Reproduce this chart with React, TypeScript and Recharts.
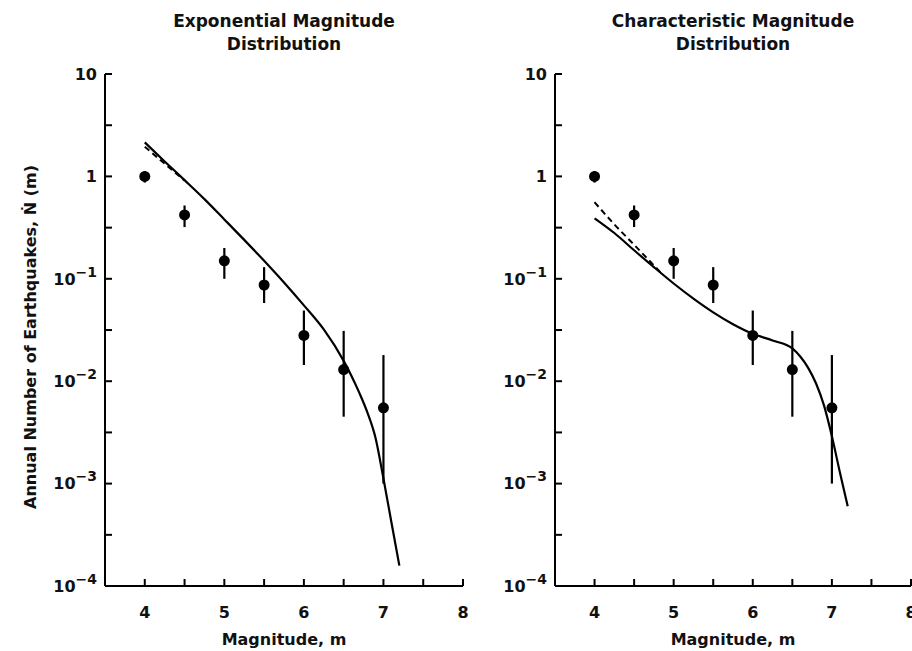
import React from 'react';
import { ComposedChart, Line, Scatter, ErrorBar, XAxis, YAxis } from 'recharts';

// observed annual rates (dots + vertical error bars), same in both panels
const magnitudes = [4, 4.5, 5, 5.5, 6, 6.5, 7];
const observedRate = [1.0, 0.42, 0.15, 0.087, 0.028, 0.013, 0.0055];
const rateLow = [0.87, 0.32, 0.1, 0.058, 0.0144, 0.0045, 0.001];
const rateHigh = [1.13, 0.52, 0.2, 0.13, 0.049, 0.031, 0.018];

// exponential model
const expMag = [4, 4.25, 4.5, 4.75, 5, 5.25, 5.5, 5.75, 6, 6.25, 6.5, 6.6, 6.7, 6.8, 6.9, 7, 7.1, 7.2];
const expRate = [2.15, 1.4, 0.92, 0.6, 0.38, 0.24, 0.15, 0.092, 0.055, 0.032, 0.0158, 0.0112, 0.0076, 0.0049, 0.0028, 0.00112, 0.00042, 0.000158];
const expDashMag = [4, 4.25, 4.5];
const expDashRate = [1.95, 1.33, 0.91];

// characteristic model
const charMag = [4, 4.25, 4.5, 4.75, 5, 5.25, 5.5, 5.75, 6, 6.25, 6.5, 6.6, 6.7, 6.8, 6.9, 7, 7.1, 7.2];
const charRate = [0.39, 0.28, 0.19, 0.13, 0.09, 0.064, 0.047, 0.036, 0.029, 0.025, 0.0209, 0.0174, 0.0135, 0.0095, 0.0058, 0.0029, 0.0013, 0.0006];
const charDashMag = [4, 4.25, 4.5, 4.75, 4.85];
const charDashRate = [0.56, 0.34, 0.215, 0.135, 0.112];

const xTicks = [4, 4.5, 5, 5.5, 6, 6.5, 7, 7.5, 8];
const xTickLabels = ['4', '', '5', '', '6', '', '7', '', '8'];
const yTicks = [0.0001, 0.000316, 0.001, 0.00316, 0.01, 0.0316, 0.1, 0.316, 1, 3.16, 10];
const yTickBase = ['10', '', '10', '', '10', '', '10', '', '1', '', '10'];
const yTickExp = ['−4', '', '−3', '', '−2', '', '−1', '', '', '', ''];

const FONT = '"DejaVu Sans", sans-serif';
const TICK = 7;

const points = magnitudes.map((m, i) => ({
  m,
  n: observedRate[i],
  err: [observedRate[i] - rateLow[i], rateHigh[i] - observedRate[i]],
}));
const toSeries = (ms: number[], ns: number[]) => ms.map((m, i) => ({ m, n: ns[i] }));

const LeftYTick = (props: any) => {
  const { x, y, payload } = props;
  const i = yTicks.indexOf(payload.value);
  const ax = x + 8;
  return (
    <g>
      <line x1={ax} x2={ax + TICK} y1={y} y2={y} stroke="#000" strokeWidth={2} />
      {yTickBase[i] ? (
        <text x={x} y={y} dy="0.36em" textAnchor="end" fontFamily={FONT} fontWeight="bold" fontSize={16} fill="#111">
          {yTickBase[i]}
          {yTickExp[i] ? <tspan dy={-8} fontSize={14}>{yTickExp[i]}</tspan> : null}
        </text>
      ) : null}
    </g>
  );
};

const RightYTick = (props: any) => {
  const { x, y } = props;
  return <line x1={x - TICK} x2={x} y1={y} y2={y} stroke="#000" strokeWidth={2} />;
};

const BottomXTick = (props: any) => {
  const { x, y, payload } = props;
  const i = xTicks.indexOf(payload.value);
  const ay = y - 10;
  return (
    <g>
      <line x1={x} x2={x} y1={ay} y2={ay - TICK} stroke="#000" strokeWidth={2} />
      <text x={x} y={y + 8} dy="0.9em" textAnchor="middle" fontFamily={FONT} fontWeight="bold" fontSize={16} fill="#111">
        {xTickLabels[i]}
      </text>
    </g>
  );
};

const TopXTick = (props: any) => {
  const { x, y } = props;
  return <line x1={x} x2={x} y1={y} y2={y + TICK} stroke="#000" strokeWidth={2} />;
};

interface PanelProps {
  title: string;
  curve: { m: number; n: number }[];
  dash: { m: number; n: number }[];
  width: number;
  marginRight: number;
  showYLabel: boolean;
}

const Panel: React.FC<PanelProps> = ({ title, curve, dash, width, marginRight, showYLabel }) => {
  const plotLeft = 105;
  const plotCenter = (plotLeft + width - marginRight) / 2;
  return (
    <div style={{ position: 'relative', width, height: 651 }}>
      <div
        style={{
          position: 'absolute',
          top: 10,
          left: plotCenter - 150,
          width: 300,
          textAlign: 'center',
          fontFamily: FONT,
          fontWeight: 'bold',
          fontSize: 17,
          lineHeight: '23px',
          color: '#111',
        }}
      >
        {title}
        <br />
        Distribution
      </div>
      <ComposedChart width={width} height={651} margin={{ top: 74, right: marginRight, bottom: 0, left: 0 }}>
        <XAxis
          dataKey="m"
          type="number"
          domain={[3.5, 8]}
          ticks={xTicks}
          interval={0}
          allowDataOverflow
          height={65}
          tickSize={0}
          tickMargin={10}
          tick={<BottomXTick />}
          axisLine={{ stroke: '#000', strokeWidth: 2 }}
          label={{ value: 'Magnitude, m', position: 'insideBottom', offset: 6, fontFamily: FONT, fontWeight: 'bold', fontSize: 16, fill: '#111' }}
        />
        <XAxis
          xAxisId="top"
          orientation="top"
          type="number"
          domain={[3.5, 8]}
          ticks={xTicks}
          interval={0}
          allowDataOverflow
          height={0}
          tickSize={0}
          tickMargin={0}
          tick={<TopXTick />}
          axisLine={{ stroke: '#000', strokeWidth: 2 }}
        />
        <YAxis
          dataKey="n"
          type="number"
          scale="log"
          domain={[0.0001, 10]}
          ticks={yTicks}
          interval={0}
          allowDataOverflow
          width={plotLeft}
          tickSize={0}
          tickMargin={8}
          tick={<LeftYTick />}
          axisLine={{ stroke: '#000', strokeWidth: 2 }}
          label={
            showYLabel
              ? {
                  content: () => (
                    <text
                      x={30}
                      y={337}
                      transform="rotate(-90 30 337)"
                      textAnchor="middle"
                      dominantBaseline="central"
                      fontFamily={FONT}
                      fontWeight="bold"
                      fontSize={16}
                      fill="#111"
                    >
                      Annual Number of Earthquakes, Ṅ (m)
                    </text>
                  ),
                }
              : undefined
          }
        />
        <YAxis
          yAxisId="right"
          orientation="right"
          type="number"
          scale="log"
          domain={[0.0001, 10]}
          ticks={yTicks}
          interval={0}
          allowDataOverflow
          width={0}
          tickSize={0}
          tickMargin={0}
          tick={<RightYTick />}
          axisLine={{ stroke: '#000', strokeWidth: 2 }}
        />
        <Line data={dash} dataKey="n" type="monotone" stroke="#000" strokeWidth={2} strokeDasharray="6 4" dot={false} isAnimationActive={false} />
        <Line data={curve} dataKey="n" type="monotone" stroke="#000" strokeWidth={2.2} dot={false} isAnimationActive={false} />
        <Scatter
          data={points}
          dataKey="n"
          isAnimationActive={false}
          shape={(p: any) => <circle cx={p.cx} cy={p.cy} r={5.5} fill="#000" />}
        >
          <ErrorBar dataKey="err" direction="y" width={0} stroke="#000" strokeWidth={2.2} />
        </Scatter>
      </ComposedChart>
    </div>
  );
};

export default function App() {
  return (
    <div style={{ position: 'absolute', left: 0, top: 0, width: 912, height: 651, background: '#fff' }}>
      <div style={{ position: 'absolute', left: 0, top: 0 }}>
        <Panel
          title="Exponential Magnitude"
          curve={toSeries(expMag, expRate)}
          dash={toSeries(expDashMag, expDashRate)}
          width={480}
          marginRight={17}
          showYLabel
        />
      </div>
      <div style={{ position: 'absolute', left: 450, top: 0 }}>
        <Panel
          title="Characteristic Magnitude"
          curve={toSeries(charMag, charRate)}
          dash={toSeries(charDashMag, charDashRate)}
          width={462}
          marginRight={1}
          showYLabel={false}
        />
      </div>
    </div>
  );
}
